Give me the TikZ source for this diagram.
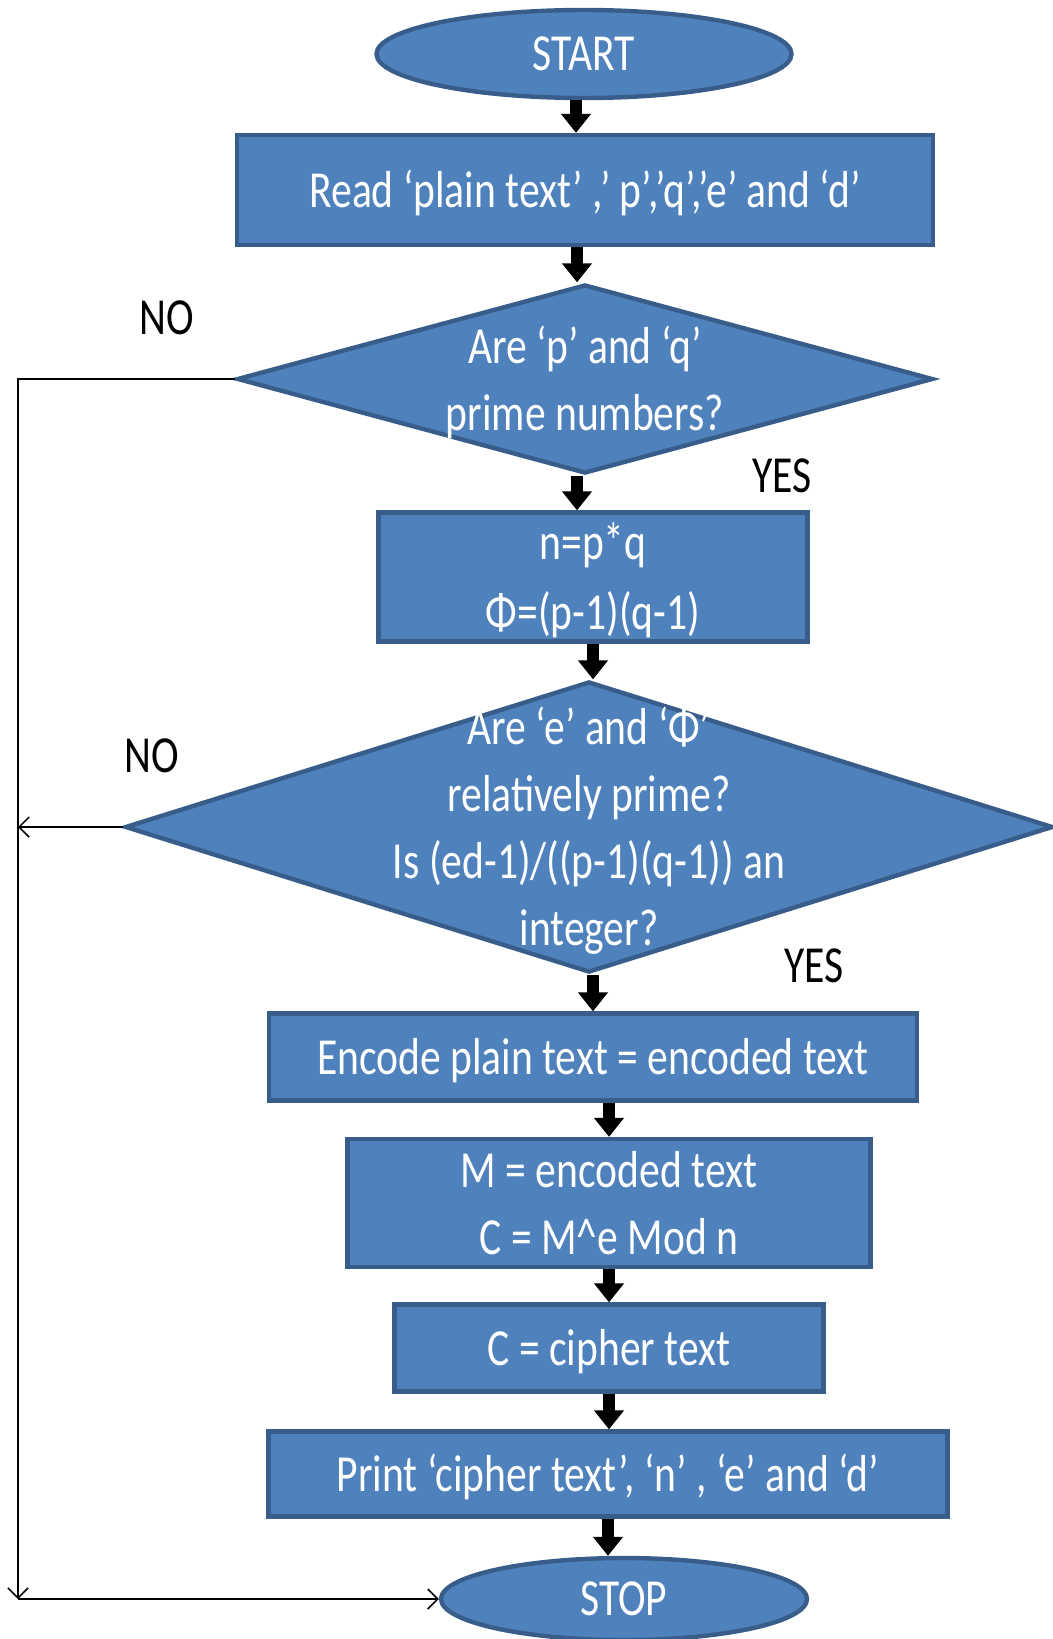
\documentclass[tikz,border=0pt]{standalone}
\usepackage{fontspec}
\setmainfont{Carlito}[FakeStretch=0.8]
\usetikzlibrary{shapes.geometric,arrows.meta}
\definecolor{boxfill}{HTML}{4F81BD}
\definecolor{boxline}{HTML}{385D8A}
\begin{document}
\begin{tikzpicture}[x=0.5pt,y=-0.5pt,every node/.style={font=\fontsize{26}{33.5}\selectfont}]
\tikzstyle{terminal} = [ellipse,draw=boxline,fill=boxfill,line width=2.2pt,text=white,inner sep=0pt,text height=22pt,text depth=5.5pt];
\tikzstyle{process} = [rectangle,draw=boxline,fill=boxfill,line width=2.2pt,text=white,align=center,inner sep=0pt];
\tikzstyle{oneline} = [text height=23pt,text depth=5.5pt];
\tikzstyle{decision} = [diamond,draw=boxline,fill=boxfill,line width=2.2pt,inner sep=0pt];
\tikzstyle{inside} = [text=white,align=center];
\tikzstyle{flow} = [line width=6pt,-{Triangle[width=14.5pt,length=9.5pt]}];
\tikzstyle{back} = [line width=0.75pt,-{Straight Barb[width=10pt,length=5pt]}];
\useasboundingbox (0,0) rectangle (1053,1639);

\node [terminal,minimum width=207.5pt,minimum height=44pt] (v1) at (584,54) {START};
\node [process,oneline,minimum width=348pt,minimum height=55pt] (v2) at (585,190) {Read ‘plain text’ ,’ p’,’q’,’e’ and ‘d’};
\node [decision,minimum width=348pt,minimum height=94.5pt] (v3) at (585,379) {};
\node [inside] (v3t) at (585,382) {Are ‘p’ and ‘q’\\prime numbers?};
\node [process,minimum width=214.5pt,minimum height=64.5pt] (v4) at (593,577) {};
\node [inside,font=\fontsize{26}{35}\selectfont] (v4t) at (593,580) {n=p*q\\Φ=(p-1)(q-1)};
\node [decision,minimum width=464pt,minimum height=145.5pt] (v5) at (589,827) {};
\node [inside] (v5t) at (589,831) {Are ‘e’ and ‘Φ’\\relatively prime?\\Is (ed-1)/((p-1)(q-1)) an\\integer?};
\node [process,oneline,minimum width=324pt,minimum height=43.5pt] (v6) at (593,1057) {Encode plain text = encoded text};
\node [process,minimum width=261.5pt,minimum height=64pt] (v7) at (609,1203) {M = encoded text\\C = M\textasciicircum e Mod n};
\node [process,oneline,minimum width=214.5pt,minimum height=43.5pt] (v8) at (609,1348) {C = cipher text};
\node [process,oneline,minimum width=339.5pt,minimum height=42.5pt] (v9) at (608,1474) {Print ‘cipher text’, ‘n’ , ‘e’ and ‘d’};
\node [terminal,minimum width=183pt,minimum height=41pt] (v10) at (624,1599) {STOP};

\node (n1) at (167,318) {NO};
\node (y1) at (782,476) {YES};
\node (n2) at (152,756) {NO};
\node (y2) at (814,966) {YES};

\draw[flow] ([xshift=-4pt]v1.south) -- ([xshift=-4pt]v1.south |- v2.north);
\draw[flow] ([xshift=-4pt]v2.south) -- ([xshift=-4pt]v2.south |- v3.north);
\draw[flow] ([xshift=-4pt]v3.south) -- ([xshift=-4pt]v3.south |- v4.north);
\draw[flow] (v4.south) -- (v4.south |- v5.north);
\draw[flow] (v5.south -| v6.north) -- (v6.north);
\draw[flow] (v6.south -| v7.north) -- (v7.north);
\draw[flow] (v7.south) -- (v7.south |- v8.north);
\draw[flow] (v8.south) -- (v8.south |- v9.north);
\draw[flow] (v9.south) -- (v9.south |- v10.north);

\coordinate (c1) at (18,1599);
\draw[back] (v3.west) -| (c1);
\draw[back] (c1) -- (v10.west);
\draw[back] (v5.west) -- (v5.west -| c1);
\end{tikzpicture}
\end{document}
